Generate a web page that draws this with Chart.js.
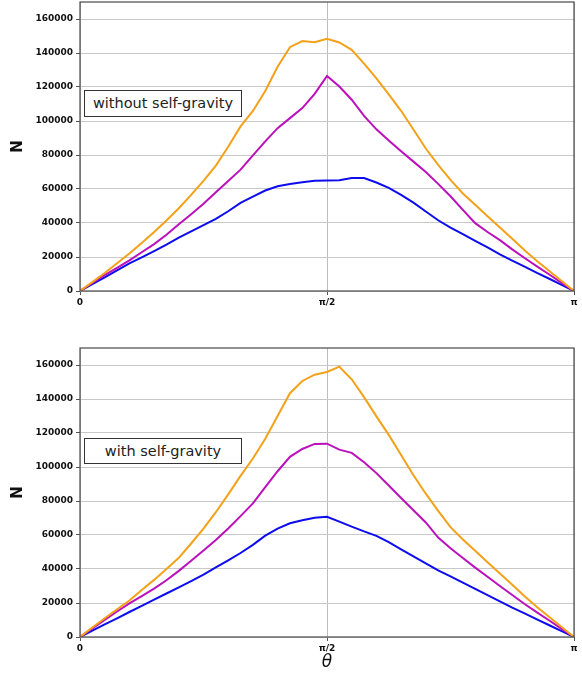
<!DOCTYPE html>
<html>
<head>
<meta charset="utf-8">
<script src="https://cdn.jsdelivr.net/npm/chart.js@4.4.1/dist/chart.umd.min.js"></script>
<style>
  html, body { margin: 0; padding: 0; background: #fff; }
  #page { position: relative; width: 582px; height: 675px; overflow: hidden; background: #fff; }
  .panel { position: absolute; left: 0; }
  .note {
    position: absolute; box-sizing: border-box;
    border: 1px solid #333; background: #fff; color: #222;
    font: 14.5px "DejaVu Sans", sans-serif; text-align: center; line-height: 24px;
  }
</style>
</head>
<body>
<div id="page">
  <div class="panel" style="top:0"><canvas id="topChart" width="582" height="315"></canvas></div>
  <div class="panel" style="top:340px"><canvas id="bottomChart" width="582" height="335"></canvas></div>
  <div class="note" style="left:84px;top:90px;width:158px;height:27px">without self-gravity</div>
  <div class="note" style="left:84px;top:438px;width:158px;height:26px">with self-gravity</div>
</div>

<script>
/* ===============================
   DATA (theta in units of pi)
=============================== */
const thetaFrac = [0, 0.025, 0.05, 0.075, 0.1, 0.125, 0.15, 0.175, 0.2, 0.225, 0.25, 0.275, 0.3, 0.325,
  0.35, 0.375, 0.4, 0.425, 0.45, 0.475, 0.5, 0.525, 0.55, 0.575, 0.6, 0.625, 0.65, 0.675, 0.7, 0.725,
  0.75, 0.775, 0.8, 0.825, 0.85, 0.875, 0.9, 0.925, 0.95, 0.975, 1];

// without self-gravity
const topOrange = [0, 5200, 10600, 16300, 22000, 28300, 34700, 41500, 48700, 56500, 64800, 73800, 84800,
  96800, 105900, 117700, 131900, 143400, 147000, 146300, 148400, 146200, 141900, 133700, 125100, 115600,
  106000, 95000, 83800, 74200, 65400, 57400, 50700, 44000, 37300, 30700, 24000, 17600, 11800, 5900, 0];
const topMagenta = [0, 4700, 9300, 13600, 18000, 22800, 27600, 33100, 39300, 45200, 51300, 58100, 64700,
  71400, 79800, 88000, 95800, 101700, 107600, 116000, 126500, 120300, 112500, 103000, 95100, 88600,
  82200, 76100, 70000, 63000, 55700, 47700, 39900, 34700, 29900, 24500, 19400, 14500, 9700, 4800, 0];
const topBlue = [0, 4000, 8050, 12100, 16200, 19800, 23500, 27300, 31400, 35100, 38700, 42400, 46900,
  51800, 55500, 59100, 61600, 63000, 64000, 64800, 65000, 65100, 66500, 66400, 63800, 60700,
  56500, 52000, 46800, 41600, 37300, 33400, 29500, 25600, 21600, 17900, 14300, 10700, 7200, 3600, 0];

// with self-gravity
const bottomOrange = [0, 5600, 11000, 16300, 21500, 27600, 33600, 40000, 46600, 55000, 63800, 73400, 83900,
  94800, 105000, 116600, 130000, 143400, 150600, 154300, 155900, 159000, 151600, 141100, 129800, 118900,
  107100, 95100, 84300, 74200, 64600, 57400, 50700, 44000, 37300, 30700, 24000, 17600, 11800, 5900, 0];
const bottomMagenta = [0, 5100, 10000, 15000, 19800, 24100, 28500, 33400, 38900, 44900, 50900, 57000, 63800,
  71100, 78600, 88100, 97500, 106000, 110600, 113600, 113700, 110200, 108300, 102800, 96400, 89100,
  81800, 74600, 67400, 58500, 52200, 46500, 40800, 35400, 30000, 24700, 19400, 14500, 9700, 4800, 0];
const bottomBlue = [0, 3700, 7400, 11000, 14700, 18300, 22000, 25600, 29200, 32900, 36700, 40900, 45100,
  49400, 54200, 59600, 63800, 66900, 68700, 70100, 70700, 67900, 64900, 62100, 59500, 55800,
  51600, 47400, 43300, 39200, 35700, 32000, 28300, 24600, 21000, 17300, 13900, 10400, 6900, 3500, 0];

const yTicks = [0, 20000, 40000, 60000, 80000, 100000, 120000, 140000, 160000];
const xTicks = [0, 0.5, 1];
const xTickLabels = ['0', 'π/2', 'π'];
const yMax = 170000;

const colors = { orange: '#f4a11a', magenta: '#bb10bb', blue: '#0c0cee' };

/* ===============================
   HELPERS
=============================== */
const toPoints = vals => vals.map((v, i) => ({ x: thetaFrac[i] * Math.PI, y: v }));

const line = (vals, color) => ({
  data: toPoints(vals),
  borderColor: color,
  borderWidth: 2,
  pointRadius: 0,
  tension: 0,
  fill: false
});

// frame around the plot area, like the matplotlib spines
const framePlugin = {
  id: 'frame',
  afterDraw(chart) {
    const { ctx, chartArea: a } = chart;
    ctx.save();
    ctx.strokeStyle = '#4a4a4a';
    ctx.lineWidth = 1.2;
    ctx.strokeRect(a.left, a.top, a.right - a.left, a.bottom - a.top);
    ctx.restore();
  }
};

const tickFont = { family: '"DejaVu Sans", sans-serif', size: 9, weight: 'bold' };

function makeChart(id, series, o) {
  return new Chart(document.getElementById(id), {
    type: 'line',
    data: {
      datasets: [
        line(series[0], colors.orange),
        line(series[1], colors.magenta),
        line(series[2], colors.blue)
      ]
    },
    plugins: [framePlugin],
    options: {
      responsive: false,
      animation: false,
      layout: { padding: { top: o.padTop, right: 8, left: 0, bottom: 0 } },
      plugins: { legend: { display: false }, tooltip: { enabled: false } },
      scales: {
        x: {
          type: 'linear',
          min: 0,
          max: Math.PI,
          afterBuildTicks: s => { s.ticks = xTicks.map(f => ({ value: f * Math.PI })); },
          afterFit: s => { s.height = o.xAxisH; s.paddingLeft = 0; s.paddingRight = 0; },
          ticks: {
            color: '#111',
            font: tickFont,
            padding: 2,
            maxRotation: 0,
            autoSkip: false,
            callback: (v, i) => xTickLabels[i]
          },
          grid: { color: '#bdbdbd', lineWidth: 1, tickColor: '#555', tickLength: 4 },
          border: { display: false },
          title: {
            display: o.showTheta,
            text: 'θ',
            color: '#111',
            font: { family: '"DejaVu Sans", sans-serif', size: 17, style: 'italic' },
            padding: { top: 0, bottom: 2 }
          }
        },
        y: {
          min: 0,
          max: yMax,
          afterBuildTicks: s => { s.ticks = yTicks.map(v => ({ value: v })); },
          afterFit: s => { s.width = 80; s.paddingTop = 0; s.paddingBottom = 0; },
          ticks: { color: '#111', font: tickFont, padding: 3, callback: v => String(v) },
          grid: { color: '#c8c8c8', lineWidth: 1, tickColor: '#555', tickLength: 4 },
          border: { display: false },
          title: {
            display: true,
            text: 'N',
            color: '#111',
            font: { family: '"DejaVu Sans", sans-serif', size: 15, weight: 'bold' },
            padding: { top: 9, bottom: 0 }
          }
        }
      }
    }
  });
}

/* ===============================
   START
=============================== */
makeChart('topChart', [topOrange, topMagenta, topBlue], { padTop: 2, xAxisH: 24, showTheta: false });
makeChart('bottomChart', [bottomOrange, bottomMagenta, bottomBlue], { padTop: 8, xAxisH: 38, showTheta: true });
</script>
</body>
</html>
